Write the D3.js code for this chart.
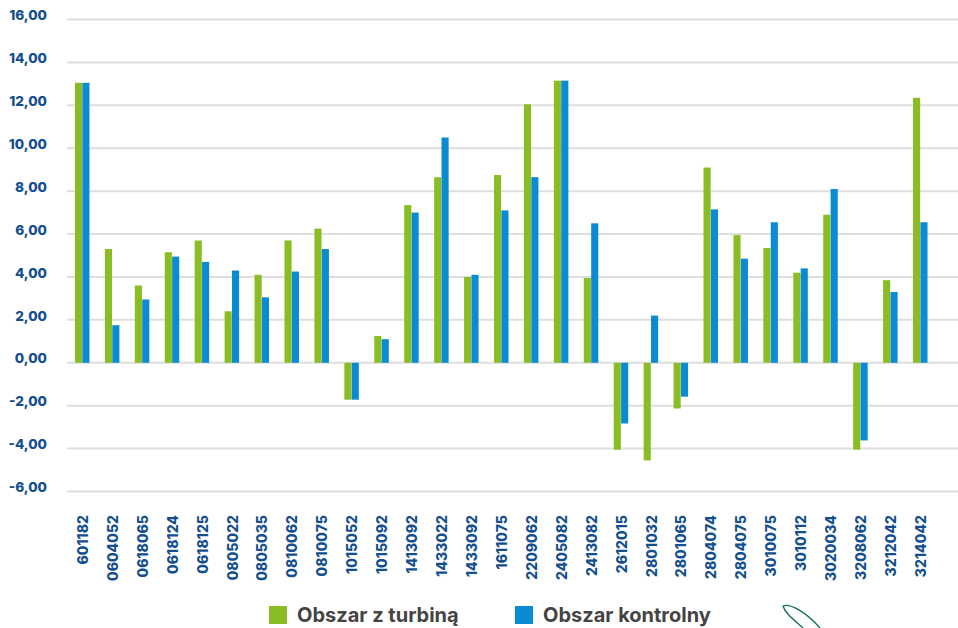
<!DOCTYPE html>
<html>
<head>
<meta charset="utf-8">
<script src="https://cdn.jsdelivr.net/npm/d3@7/dist/d3.min.js"></script>
<style>
html,body{margin:0;padding:0;background:#fff;overflow:hidden}
svg{display:block}
text{font-family:Inter,"Open Sans",sans-serif}
</style>
</head>
<body>
<svg id="chart" width="958" height="628"></svg>
<script>
const categories = ["601182","0604052","0618065","0618124","0618125","0805022","0805035","0810062","0810075","1015052","1015092","1413092","1433022","1433092","1611075","2209062","2405082","2413082","2612015","2801032","2801065","2804074","2804075","3010075","3010112","3020034","3208062","3212042","3214042"];
const turbineValues = [13.05,5.3,3.6,5.15,5.7,2.4,4.1,5.7,6.25,-1.72,1.25,7.35,8.65,4.0,8.75,12.05,13.15,3.95,-4.05,-4.55,-2.13,9.1,5.95,5.35,4.2,6.9,-4.05,3.85,12.35];
const controlValues = [13.05,1.75,2.95,4.95,4.7,4.3,3.05,4.25,5.3,-1.72,1.1,7.0,10.5,4.1,7.1,8.65,13.15,6.5,-2.83,2.2,-1.58,7.15,4.85,6.55,4.4,8.1,-3.62,3.3,6.55];
const yTicks = [16,14,12,10,8,6,4,2,0,-2,-4,-6];
const seriesNames = ["Obszar z turbiną","Obszar kontrolny"];
const seriesColors = ["#8abd24","#0a8bd2"];
const ink = "#134f8e";

const svg = d3.select("#chart");
const y = d3.scaleLinear().domain([-6,16]).range([491.5,19.5]);
const x = d3.scaleBand().domain(categories).range([67,935]);
const inner = d3.scaleBand().domain([0,1]).range([-7,7.5]).paddingInner(0.035);

// Value axis: long horizontal gridlines carry the ticks
const yAxis = d3.axisLeft(y).tickValues(yTicks).tickSize(-891).offset(0)
  .tickFormat(d => d3.format(".2f")(d).replace(".",",").replace("−","-"));
svg.append("g").attr("transform","translate(67,0)").call(yAxis)
  .call(g => g.select(".domain").remove())
  .call(g => g.selectAll(".tick line").attr("stroke","#dedede").attr("stroke-width",2))
  .call(g => g.selectAll(".tick text").attr("x",-20).attr("dy","0.05em")
    .attr("fill",ink).attr("font-size",13.6).attr("font-weight",800).style("font-family","Inter,sans-serif"));

// Paired bars for every site
const groups = svg.append("g").selectAll("g").data(categories).join("g")
  .attr("transform", d => `translate(${x(d)+x.bandwidth()/2},0)`);
[turbineValues,controlValues].forEach((vals,s) => {
  groups.append("rect")
    .attr("x", inner(s))
    .attr("width", inner.bandwidth())
    .attr("y", (d,i) => Math.min(y(vals[i]),y(0)))
    .attr("height", (d,i) => Math.abs(y(vals[i])-y(0)))
    .attr("fill", seriesColors[s]);
});

// Site codes, rotated and reading upwards
const xAxis = d3.axisBottom(x).tickSize(0);
svg.append("g").attr("transform","translate(1,515)").call(xAxis)
  .call(g => g.select(".domain").remove())
  .call(g => g.selectAll(".tick text")
    .attr("transform","rotate(-90)")
    .attr("x",0).attr("y",0).attr("dy","0.35em")
    .attr("text-anchor","end")
    .attr("fill",ink).attr("font-size",14).attr("font-weight",800).style("font-family","Inter,sans-serif"));

// Legend
const legendX = [269,515];
const legend = svg.append("g").selectAll("g").data(seriesNames).join("g")
  .attr("transform",(d,i)=>`translate(${legendX[i]},606)`);
legend.append("rect").attr("width",18).attr("height",18).attr("fill",(d,i)=>seriesColors[i]);
legend.append("text").attr("x",28).attr("y",15.5).text(d=>d)
  .attr("fill","#444444").attr("font-size",20).attr("font-weight",700);

// Leaf outline cut off by the lower edge
svg.append("path")
  .attr("d","M783,606 C790,603 806,612 820,628 M783,606 C785,613 793,619 803,628")
  .attr("fill","none").attr("stroke","#14705f").attr("stroke-width",1.4);
</script>
</body>
</html>
